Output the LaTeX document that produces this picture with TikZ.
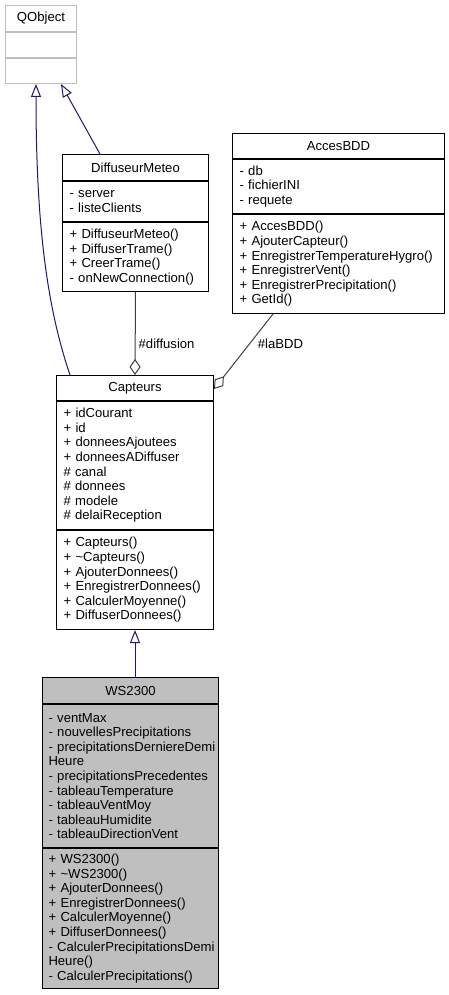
\documentclass[tikz,border=0pt]{standalone}
\usepackage{fontspec}
\setmainfont{Liberation Sans}
\usetikzlibrary{arrows.meta}
\definecolor{edgeBlue}{RGB}{25,25,112}
\definecolor{edgeGray}{RGB}{64,64,64}
\definecolor{boxGray}{RGB}{191,191,191}
\newcommand{\umlFont}{\fontsize{13.1}{14.6}\selectfont\hyphenpenalty=10000\exhyphenpenalty=10000}
\tikzstyle{classTitle}=[draw, anchor=north west, inner xsep=7pt, inner ysep=0pt, align=center, font=\umlFont, line width=1pt]
\tikzstyle{classPart}=[classTitle, align=left]
\tikzstyle{inherit}=[draw=edgeBlue, line width=1pt, -{Triangle[open, length=13pt, width=10pt]}]
\tikzstyle{aggreg}=[draw=edgeGray, line width=1pt, {Diamond[open, length=16pt, width=11pt]}-]
\tikzstyle{roleLabel}=[font=\umlFont, anchor=west, inner sep=3pt]

\begin{document}
\begin{tikzpicture}[x = 1pt, y = -1pt]
\useasboundingbox (0,0) rectangle (449,995);
% QObject
\node[classTitle, draw = boxGray, text width = 57pt, minimum height = 26pt] (qobj) at (5,5) {QObject};
\node[classPart, draw = boxGray, text width = 57pt, minimum height = 25pt] (qobjA) at (qobj.south west) {};
\node[classPart, draw = boxGray, text width = 57pt, minimum height = 25pt] (qobjM) at (qobjA.south west) {};
% DiffuseurMeteo
\node[classTitle, text width = 132pt, minimum height = 26pt] (dif) at (62,154) {DiffuseurMeteo};
\node[classPart, text width = 132pt, minimum height = 40pt] (difA) at (dif.south west)
{- server\\- listeClients};
\node[classPart, text width = 132pt, minimum height = 69pt] (difM) at (difA.south west)
{+ DiffuseurMeteo()\\+ DiffuserTrame()\\+ CreerTrame()\\- onNewConnection()};
% AccesBDD
\node[classTitle, text width = 198pt, minimum height = 25pt] (acc) at (232,133) {AccesBDD};
\node[classPart, text width = 198pt, minimum height = 54pt] (accA) at (acc.south west)
{- db\\- fichierINI\\- requete};
\node[classPart, text width = 198pt, minimum height = 99pt] (accM) at (accA.south west)
{+ AccesBDD()\\+ AjouterCapteur()\\+ EnregistrerTemperatureHygro()\\+ EnregistrerVent()\\+ EnregistrerPrecipitation()\\+ GetId()};
% Capteurs
\node[classTitle, text width = 143pt, minimum height = 25pt] (cap) at (56,375) {Capteurs};
\node[classPart, text width = 143pt, minimum height = 128pt] (capA) at (cap.south west)
{+ idCourant\\+ id\\+ donneesAjoutees\\+ donneesADiffuser\\\# canal\\\# donnees\\\# modele\\\# delaiReception};
\node[classPart, text width = 143pt, minimum height = 99pt] (capM) at (capA.south west)
{+ Capteurs()\\+ \textasciitilde Capteurs()\\+ AjouterDonnees()\\+ EnregistrerDonnees()\\+ CalculerMoyenne()\\+ DiffuserDonnees()};
% WS2300
\node[classTitle, fill = boxGray, text width = 164pt, inner xsep = 6pt, minimum height = 26pt] (ws) at (42,677) {WS2300};
\node[classPart, fill = boxGray, text width = 164pt, inner xsep = 6pt, minimum height = 143pt] (wsA) at (ws.south west)
{- ventMax\\- nouvellesPrecipitations\\-~precipitationsDerniereDemi\\Heure\\- precipitationsPrecedentes\\- tableauTemperature\\- tableauVentMoy\\- tableauHumidite\\- tableauDirectionVent};
\node[classPart, fill = boxGray, text width = 164pt, inner xsep = 6pt, minimum height = 140pt] (wsM) at (wsA.south west)
{+ WS2300()\\+ \textasciitilde WS2300()\\+ AjouterDonnees()\\+ EnregistrerDonnees()\\+ CalculerMoyenne()\\+ DiffuserDonnees()\\-~CalculerPrecipitationsDemi\\Heure()\\- CalculerPrecipitations()};
% heritage
\draw[inherit] (capM.south |- ws.north) -- (capM.south);
\draw[inherit] ([xshift = 14pt]cap.north west) .. controls (48,310) and (36,230) .. ([xshift = 31pt]qobjM.south west);
\draw[inherit] ([xshift = 38pt]dif.north west) -- ([xshift = 56pt]qobjM.south west);
% aggregation
\draw[aggreg] (cap.north) -- (difM.south) node[roleLabel, pos = 0.38] {\#diffusion};
\draw[aggreg] ([yshift = -14pt]cap.north east) -- ([xshift = 41pt]accM.south west)
node[roleLabel, pos = 0.6, xshift = 5pt] {\#laBDD};
\end{tikzpicture}
\end{document}
